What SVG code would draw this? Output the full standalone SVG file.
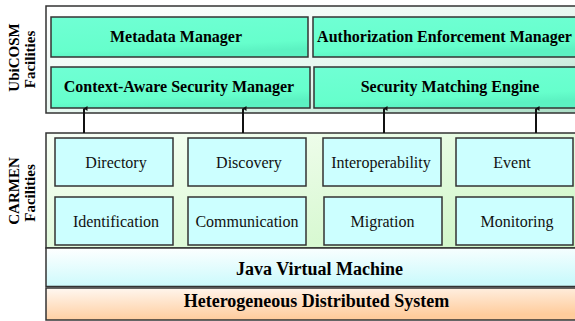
<svg xmlns="http://www.w3.org/2000/svg" width="575" height="321" viewBox="0 0 575 321">
  <defs>
    <linearGradient id="gUbi" x1="0" y1="0" x2="1" y2="1">
      <stop offset="0" stop-color="#ffffff"/>
      <stop offset="0.6" stop-color="#e4f6ee"/>
      <stop offset="1" stop-color="#a8dcc4"/>
    </linearGradient>
    <linearGradient id="gAqua" x1="0" y1="0" x2="0.3" y2="1">
      <stop offset="0" stop-color="#70ffd4"/>
      <stop offset="0.8" stop-color="#66ffcc"/>
      <stop offset="1" stop-color="#5cf2c2"/>
    </linearGradient>
    <linearGradient id="gCarmen" x1="0" y1="0" x2="1" y2="1">
      <stop offset="0" stop-color="#f8fff6"/>
      <stop offset="1" stop-color="#ccf6c4"/>
    </linearGradient>
    <linearGradient id="gJvm" x1="0" y1="0" x2="0.2" y2="1">
      <stop offset="0" stop-color="#ffffff"/>
      <stop offset="1" stop-color="#ccfafc"/>
    </linearGradient>
    <linearGradient id="gHds" x1="0" y1="0" x2="0.3" y2="1">
      <stop offset="0" stop-color="#fff8f2"/>
      <stop offset="1" stop-color="#ffcc9c"/>
    </linearGradient>
    <marker id="tick" viewBox="0 0 6 6" refX="3" refY="0.5" markerWidth="6" markerHeight="6" markerUnits="userSpaceOnUse" orient="auto-start-reverse">
      <path d="M0.5,4 L3,0 L5.5,4 Z" fill="#111"/>
    </marker>
    <style>
      .layer { stroke: #333; stroke-width: 1.5; }
      .ubi { fill: url(#gAqua); stroke: #333; stroke-width: 1.5; }
      .car { fill: #ccffff; stroke: #333; stroke-width: 1.5; }
      .tb { font-family: "Liberation Serif", "Times New Roman", serif; font-size: 16px; font-weight: bold; fill: #000; text-anchor: middle; }
      .tl { font-family: "Liberation Serif", "Times New Roman", serif; font-size: 18px; font-weight: bold; fill: #000; text-anchor: middle; }
      .tr { font-family: "Liberation Serif", "Times New Roman", serif; font-size: 16px; fill: #111; text-anchor: middle; }
      .side { font-family: "Liberation Serif", "Times New Roman", serif; font-size: 15px; font-weight: bold; fill: #000; text-anchor: middle; }
      .conn { stroke: #111; stroke-width: 2; fill: none; }
    </style>
  </defs>

  <!-- side captions -->
  <g id="label-ubicosm">
    <text class="side" transform="translate(18.5,57.5) rotate(-90)">UbiCOSM</text>
    <text class="side" transform="translate(35,59.5) rotate(-90)">Facilities</text>
  </g>
  <g id="label-carmen">
    <text class="side" transform="translate(18.5,191) rotate(-90)">CARMEN</text>
    <text class="side" transform="translate(35,193) rotate(-90)">Facilities</text>
  </g>

  <!-- UbiCOSM layer -->
  <g id="ubicosm-layer">
    <rect class="layer" x="46" y="6" width="545" height="107" fill="url(#gUbi)"/>
  </g>
  <g id="metadata-manager">
    <rect class="ubi" x="51" y="17" width="257" height="40"/>
    <text class="tb" x="176" y="42">Metadata Manager</text>
  </g>
  <g id="authorization-enforcement-manager">
    <rect class="ubi" x="313" y="17" width="270" height="40"/>
    <text class="tb" x="444.5" y="42">Authorization Enforcement Manager</text>
  </g>
  <g id="context-aware-security-manager">
    <rect class="ubi" x="51" y="67" width="259" height="41"/>
    <text class="tb" x="179" y="91.5">Context-Aware Security Manager</text>
  </g>
  <g id="security-matching-engine">
    <rect class="ubi" x="314" y="67" width="270" height="41"/>
    <text class="tb" x="450" y="91.5">Security Matching Engine</text>
  </g>

  <!-- CARMEN layer -->
  <g id="carmen-layer">
    <rect class="layer" x="46" y="133" width="545" height="115" fill="url(#gCarmen)"/>
  </g>
  <g id="directory">
    <rect class="car" x="55" y="138" width="118" height="48"/>
    <text class="tr" x="116" y="168">Directory</text>
  </g>
  <g id="discovery">
    <rect class="car" x="188" y="138" width="118" height="48"/>
    <text class="tr" x="249" y="168">Discovery</text>
  </g>
  <g id="interoperability">
    <rect class="car" x="323" y="138" width="118" height="48"/>
    <text class="tr" x="381" y="168">Interoperability</text>
  </g>
  <g id="event">
    <rect class="car" x="456" y="138" width="117" height="48"/>
    <text class="tr" x="512" y="168">Event</text>
  </g>
  <g id="identification">
    <rect class="car" x="55" y="197" width="118" height="48"/>
    <text class="tr" x="116" y="227">Identification</text>
  </g>
  <g id="communication">
    <rect class="car" x="188" y="197" width="118" height="48"/>
    <text class="tr" x="247" y="227">Communication</text>
  </g>
  <g id="migration">
    <rect class="car" x="324" y="197" width="118" height="48"/>
    <text class="tr" x="382.5" y="227">Migration</text>
  </g>
  <g id="monitoring">
    <rect class="car" x="456" y="197" width="117" height="48"/>
    <text class="tr" x="517" y="227">Monitoring</text>
  </g>

  <!-- lower layers -->
  <g id="java-virtual-machine">
    <rect class="layer" x="46" y="248" width="545" height="38.5" fill="url(#gJvm)"/>
    <text class="tl" x="319.5" y="275">Java Virtual Machine</text>
  </g>
  <g id="heterogeneous-distributed-system">
    <rect class="layer" x="46" y="288" width="545" height="32" fill="url(#gHds)"/>
    <text class="tl" x="316.5" y="307">Heterogeneous Distributed System</text>
  </g>

  <!-- connectors between the two facility layers -->
  <g id="connectors">
    <line class="conn" x1="84" y1="133" x2="84" y2="108.5" marker-end="url(#tick)"/>
    <line class="conn" x1="243" y1="133" x2="243" y2="108.5" marker-end="url(#tick)"/>
    <line class="conn" x1="384" y1="133" x2="384" y2="108.5" marker-end="url(#tick)"/>
    <line class="conn" x1="536" y1="133" x2="536" y2="108.5" marker-end="url(#tick)"/>
  </g>
</svg>
